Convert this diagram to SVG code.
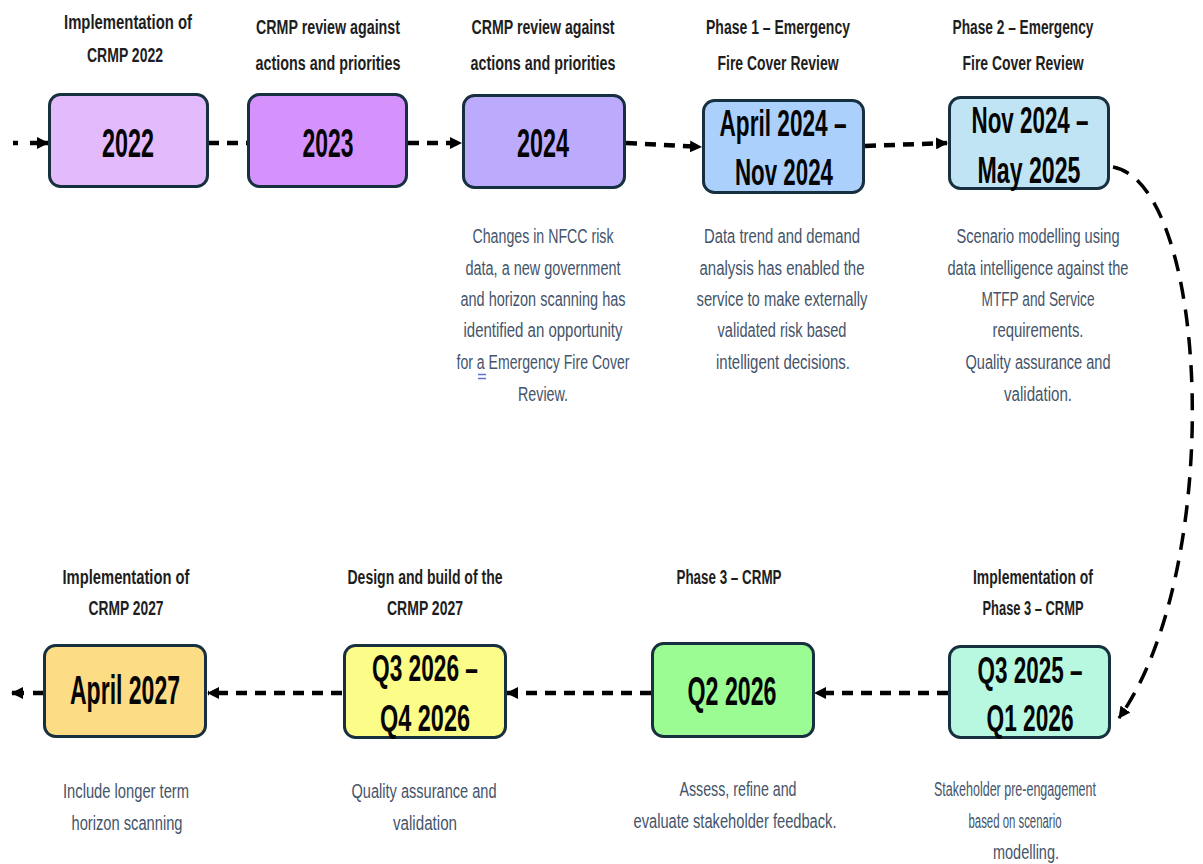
<svg xmlns="http://www.w3.org/2000/svg" width="1203" height="864" viewBox="0 0 1203 864">
<style>
.box{stroke:#17303f;stroke-width:3}
.lbl{font-family:"Liberation Sans",Arial,sans-serif;font-weight:700;fill:#050505;text-anchor:middle}
.big{font-size:40px}
.mid{font-size:37px}
.ttl{font-family:"Liberation Sans",Arial,sans-serif;font-weight:700;font-size:20px;fill:#1e1e1e;text-anchor:middle}
.dsc{font-family:"Liberation Sans",Arial,sans-serif;font-size:20px;fill:#44546a;text-anchor:middle}
.con{fill:none;stroke:#000;stroke-width:4.5;stroke-dasharray:11 8}
.curve{fill:none;stroke:#000;stroke-width:3.5;stroke-dasharray:17 11}
</style>
<defs>
<marker id="ah" markerUnits="userSpaceOnUse" markerWidth="12" markerHeight="12" refX="11" refY="6" orient="auto">
<path d="M0,0 L12,6 L0,12 z" fill="#000"/>
</marker>
</defs>
<rect width="1203" height="864" fill="#fff"/>

<g id="connectors">
<path d="M13,143 H18 M30,143 H48" fill="none" stroke="#000" stroke-width="4.5" marker-end="url(#ah)"/>
<path class="con" d="M208,143 H248"/>
<path class="con" d="M408,143 H461" marker-end="url(#ah)"/>
<path class="con" d="M626,143 L701,147" marker-end="url(#ah)"/>
<path class="con" d="M865,146 L947,143" marker-end="url(#ah)"/>
<path class="curve" d="M1113,167 C1210,185 1225,570 1119,718" marker-end="url(#ah)"/>
<path class="con" d="M948,693 H815" marker-end="url(#ah)"/>
<path class="con" d="M651,693 H507" marker-end="url(#ah)"/>
<path class="con" d="M342,693 H208" marker-end="url(#ah)"/>
<path d="M44,693 H33 M24,693 H12" fill="none" stroke="#000" stroke-width="4.5" marker-end="url(#ah)"/>
</g>

<g id="n2022">
<text class="ttl" x="128" y="29" textLength="128" lengthAdjust="spacingAndGlyphs">Implementation of</text>
<text class="ttl" x="125" y="62" textLength="76" lengthAdjust="spacingAndGlyphs">CRMP 2022</text>
<rect class="box" x="49.5" y="94.5" width="158" height="92" rx="11" fill="#e3bbfd"/>
<text class="lbl big" x="128" y="157" textLength="52" lengthAdjust="spacingAndGlyphs">2022</text>
</g>

<g id="n2023">
<text class="ttl" x="328" y="34" textLength="144" lengthAdjust="spacingAndGlyphs">CRMP review against</text>
<text class="ttl" x="328" y="70" textLength="145" lengthAdjust="spacingAndGlyphs">actions and priorities</text>
<rect class="box" x="248.5" y="94.5" width="158" height="92" rx="11" fill="#d592fc"/>
<text class="lbl big" x="328" y="157" textLength="51" lengthAdjust="spacingAndGlyphs">2023</text>
</g>

<g id="n2024">
<text class="ttl" x="543" y="34" textLength="143" lengthAdjust="spacingAndGlyphs">CRMP review against</text>
<text class="ttl" x="543" y="70" textLength="145" lengthAdjust="spacingAndGlyphs">actions and priorities</text>
<rect class="box" x="463.5" y="95.5" width="161" height="92" rx="11" fill="#bcaafc"/>
<text class="lbl big" x="543" y="157" textLength="52" lengthAdjust="spacingAndGlyphs">2024</text>
<text class="dsc" x="543" y="243" textLength="141" lengthAdjust="spacingAndGlyphs">Changes in NFCC risk</text>
<text class="dsc" x="543" y="275" textLength="155" lengthAdjust="spacingAndGlyphs">data, a new government</text>
<text class="dsc" x="543" y="306" textLength="165" lengthAdjust="spacingAndGlyphs">and horizon scanning has</text>
<text class="dsc" x="543" y="337" textLength="159" lengthAdjust="spacingAndGlyphs">identified an opportunity</text>
<text class="dsc" x="543" y="369" textLength="173" lengthAdjust="spacingAndGlyphs">for a Emergency Fire Cover</text>
<path d="M478,374.5 H486 M478,378.5 H486" stroke="#5b72d6" stroke-width="1.6"/>
<text class="dsc" x="543" y="401" textLength="50" lengthAdjust="spacingAndGlyphs">Review.</text>
</g>

<g id="nApr2024">
<text class="ttl" x="778" y="34" textLength="144" lengthAdjust="spacingAndGlyphs">Phase 1 – Emergency</text>
<text class="ttl" x="778" y="70" textLength="121" lengthAdjust="spacingAndGlyphs">Fire Cover Review</text>
<rect class="box" x="703.5" y="100.5" width="160" height="92" rx="11" fill="#acd0fc"/>
<text class="lbl mid" x="783" y="136" textLength="127" lengthAdjust="spacingAndGlyphs">April 2024 –</text>
<text class="lbl mid" x="784" y="185" textLength="98" lengthAdjust="spacingAndGlyphs">Nov 2024</text>
<text class="dsc" x="782" y="243" textLength="156" lengthAdjust="spacingAndGlyphs">Data trend and demand</text>
<text class="dsc" x="782" y="275" textLength="165" lengthAdjust="spacingAndGlyphs">analysis has enabled the</text>
<text class="dsc" x="782" y="306" textLength="171" lengthAdjust="spacingAndGlyphs">service to make externally</text>
<text class="dsc" x="782" y="337" textLength="129" lengthAdjust="spacingAndGlyphs">validated risk based</text>
<text class="dsc" x="783" y="369" textLength="134" lengthAdjust="spacingAndGlyphs">intelligent decisions.</text>
</g>

<g id="nNov2024">
<text class="ttl" x="1023" y="34" textLength="141" lengthAdjust="spacingAndGlyphs">Phase 2 – Emergency</text>
<text class="ttl" x="1023" y="70" textLength="121" lengthAdjust="spacingAndGlyphs">Fire Cover Review</text>
<rect class="box" x="949.5" y="97.5" width="159" height="91" rx="11" fill="#c0e4f4"/>
<text class="lbl mid" x="1030" y="133" textLength="117" lengthAdjust="spacingAndGlyphs">Nov 2024 –</text>
<text class="lbl mid" x="1029" y="183" textLength="103" lengthAdjust="spacingAndGlyphs">May 2025</text>
<text class="dsc" x="1038" y="243" textLength="163" lengthAdjust="spacingAndGlyphs">Scenario modelling using</text>
<text class="dsc" x="1038" y="275" textLength="181" lengthAdjust="spacingAndGlyphs">data intelligence against the</text>
<text class="dsc" x="1038" y="306" textLength="113" lengthAdjust="spacingAndGlyphs">MTFP and Service</text>
<text class="dsc" x="1038" y="337" textLength="91" lengthAdjust="spacingAndGlyphs">requirements.</text>
<text class="dsc" x="1038" y="369" textLength="145" lengthAdjust="spacingAndGlyphs">Quality assurance and</text>
<text class="dsc" x="1038" y="401" textLength="68" lengthAdjust="spacingAndGlyphs">validation.</text>
</g>

<g id="nQ32025">
<text class="ttl" x="1033" y="584" textLength="120" lengthAdjust="spacingAndGlyphs">Implementation of</text>
<text class="ttl" x="1033" y="615" textLength="101" lengthAdjust="spacingAndGlyphs">Phase 3 – CRMP</text>
<rect class="box" x="949.5" y="646.5" width="160" height="91" rx="11" fill="#b8f8e0"/>
<text class="lbl mid" x="1030" y="683" textLength="105" lengthAdjust="spacingAndGlyphs">Q3 2025 –</text>
<text class="lbl mid" x="1030" y="731" textLength="87" lengthAdjust="spacingAndGlyphs">Q1 2026</text>
<text class="dsc" x="1015" y="796" textLength="162" lengthAdjust="spacingAndGlyphs">Stakeholder pre-engagement</text>
<text class="dsc" x="1015" y="828" textLength="93" lengthAdjust="spacingAndGlyphs">based on scenario</text>
<text class="dsc" x="1026" y="859" textLength="66" lengthAdjust="spacingAndGlyphs">modelling.</text>
</g>

<g id="nQ22026">
<text class="ttl" x="729" y="584" textLength="105" lengthAdjust="spacingAndGlyphs">Phase 3 – CRMP</text>
<rect class="box" x="652.5" y="643.5" width="161" height="93" rx="11" fill="#9cfc94"/>
<text class="lbl big" x="732" y="705" textLength="89" lengthAdjust="spacingAndGlyphs">Q2 2026</text>
<text class="dsc" x="738" y="796" textLength="117" lengthAdjust="spacingAndGlyphs">Assess, refine and</text>
<text class="dsc" x="735" y="828" textLength="203" lengthAdjust="spacingAndGlyphs">evaluate stakeholder feedback.</text>
</g>

<g id="nQ32026">
<text class="ttl" x="425" y="584" textLength="155" lengthAdjust="spacingAndGlyphs">Design and build of the</text>
<text class="ttl" x="425" y="615" textLength="76" lengthAdjust="spacingAndGlyphs">CRMP 2027</text>
<rect class="box" x="344.5" y="645.5" width="161" height="92" rx="11" fill="#fcfc88"/>
<text class="lbl mid" x="425" y="681" textLength="106" lengthAdjust="spacingAndGlyphs">Q3 2026 –</text>
<text class="lbl mid" x="425" y="731" textLength="90" lengthAdjust="spacingAndGlyphs">Q4 2026</text>
<text class="dsc" x="424" y="798" textLength="145" lengthAdjust="spacingAndGlyphs">Quality assurance and</text>
<text class="dsc" x="425" y="830" textLength="64" lengthAdjust="spacingAndGlyphs">validation</text>
</g>

<g id="nApr2027">
<text class="ttl" x="126" y="584" textLength="127" lengthAdjust="spacingAndGlyphs">Implementation of</text>
<text class="ttl" x="126" y="615" textLength="75" lengthAdjust="spacingAndGlyphs">CRMP 2027</text>
<rect class="box" x="44.5" y="645.5" width="161" height="91" rx="11" fill="#fcdc84"/>
<text class="lbl big" x="125" y="704" textLength="110" lengthAdjust="spacingAndGlyphs">April 2027</text>
<text class="dsc" x="126" y="798" textLength="126" lengthAdjust="spacingAndGlyphs">Include longer term</text>
<text class="dsc" x="127" y="830" textLength="111" lengthAdjust="spacingAndGlyphs">horizon scanning</text>
</g>
</svg>
